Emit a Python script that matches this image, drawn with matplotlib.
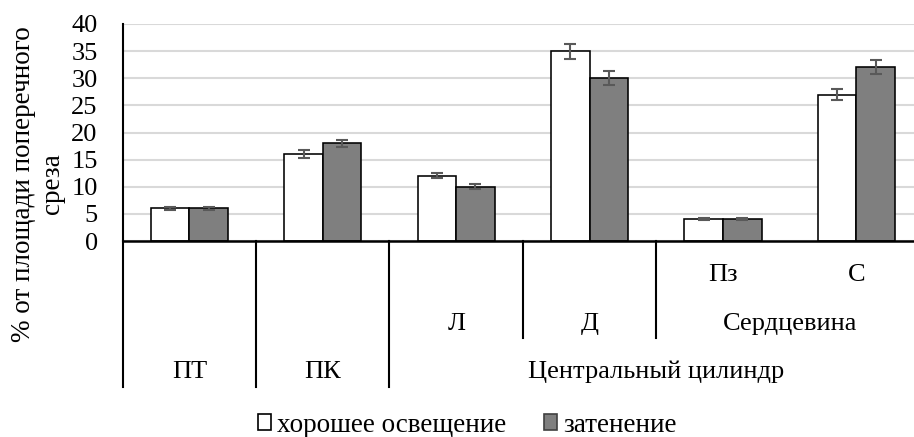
import matplotlib
matplotlib.use("Agg")
import matplotlib.pyplot as plt
from matplotlib.transforms import blended_transform_factory
from matplotlib.lines import Line2D
from matplotlib.patches import Patch

# ---- data ----
series_names = ["хорошее освещение", "затенение"]
good_light = [6, 16, 12, 35, 4, 27]
good_err = [0.2, 0.7, 0.45, 1.4, 0.15, 1.1]
shade = [6, 18, 10, 30, 4, 32]
shade_err = [0.2, 0.7, 0.45, 1.3, 0.15, 1.3]
yticks = [0, 5, 10, 15, 20, 25, 30, 35, 40]
# multi-level category labels: (label, first index, last index)
level1 = [("Пз", 4, 4), ("С", 5, 5)]
level2 = [("Л", 2, 2), ("Д", 3, 3), ("Сердцевина", 4, 5)]
level3 = [("ПТ", 0, 0), ("ПК", 1, 1), ("Центральный цилиндр", 2, 5)]
ylabel = "% от площади поперечного\nсреза"

W, H = 914, 437
plt.rcParams['font.family'] = ['Liberation Serif', 'DejaVu Serif']
fig = plt.figure(figsize=(W / 100, H / 100), dpi=100)

def fy(px):
    return 1 - px / H

ax_left, ax_top, ax_bottom = 122.7, 24, 241
ax = fig.add_axes([ax_left / W, fy(ax_bottom), 1 - ax_left / W, (ax_bottom - ax_top) / H])

n = len(good_light)
x = list(range(n))
bw = 0.289
lw_px = 1.6 * 0.72
ax.bar([i - bw / 2 for i in x], good_light, bw, color='white', edgecolor='black',
       linewidth=lw_px, zorder=3, label=series_names[0])
ax.bar([i + bw / 2 for i in x], shade, bw, color='#7f7f7f', edgecolor='black',
       linewidth=lw_px, zorder=3, label=series_names[1])
ax.errorbar([i - bw / 2 for i in x], good_light, yerr=good_err, fmt='none',
            ecolor='#595959', elinewidth=1.5, capsize=4.2, capthick=1.5, zorder=4)
ax.errorbar([i + bw / 2 for i in x], shade, yerr=shade_err, fmt='none',
            ecolor='#595959', elinewidth=1.5, capsize=4.2, capthick=1.5, zorder=4)

group_w_px = 133.4
ax.set_xlim(-0.5, -0.5 + (W - ax_left) / group_w_px)
ax.set_ylim(0, 40)
FS = 19
ax.set_yticks(yticks)
ax.set_yticklabels([str(v) for v in yticks], fontsize=FS)
ax.tick_params(axis='y', length=0, pad=18)
ax.set_xticks([])
ax.yaxis.grid(True, color='#d9d9d9', linewidth=1.5, zorder=0)
ax.set_axisbelow(True)
for s in ['top', 'right']:
    ax.spines[s].set_visible(False)
ax.spines['left'].set_linewidth(1.5)
ax.spines['bottom'].set_linewidth(1.8)
ax.spines['left'].set_zorder(5)
ax.spines['bottom'].set_zorder(5)

tr = blended_transform_factory(ax.transData, fig.transFigure)
for lab, a, b in level1:
    ax.text((a + b) / 2, fy(275), lab, transform=tr, ha='center', va='center', fontsize=FS)
for lab, a, b in level2:
    ax.text((a + b) / 2, fy(324), lab, transform=tr, ha='center', va='center', fontsize=FS)
for lab, a, b in level3:
    ax.text((a + b) / 2, fy(372), lab, transform=tr, ha='center', va='center', fontsize=FS)

# separators
def vline(xd, y0, y1):
    ax.add_line(Line2D([xd, xd], [fy(y0), fy(y1)], transform=tr, color='black',
                       linewidth=1.5, clip_on=False))
vline(-0.5, 241, 387)
vline(0.5, 241, 387)
vline(1.5, 241, 387)
vline(2.5, 241, 338)
vline(3.5, 241, 338)

fig.text(38 / W, fy(184), ylabel, rotation=90, ha='center', va='center',
         multialignment='center', fontsize=19.5, linespacing=1.2)

handles = [Patch(facecolor='white', edgecolor='black', linewidth=1.2),
           Patch(facecolor='#7f7f7f', edgecolor='#404040', linewidth=1.2)]
fig.legend(handles, series_names, loc='center', bbox_to_anchor=(467 / W, fy(425)),
           ncol=2, frameon=False, fontsize=19.5, handlelength=0.5, handleheight=0.5,
           handletextpad=0.2, columnspacing=1.4, borderaxespad=0)

fig.savefig('out.png', dpi=100)
